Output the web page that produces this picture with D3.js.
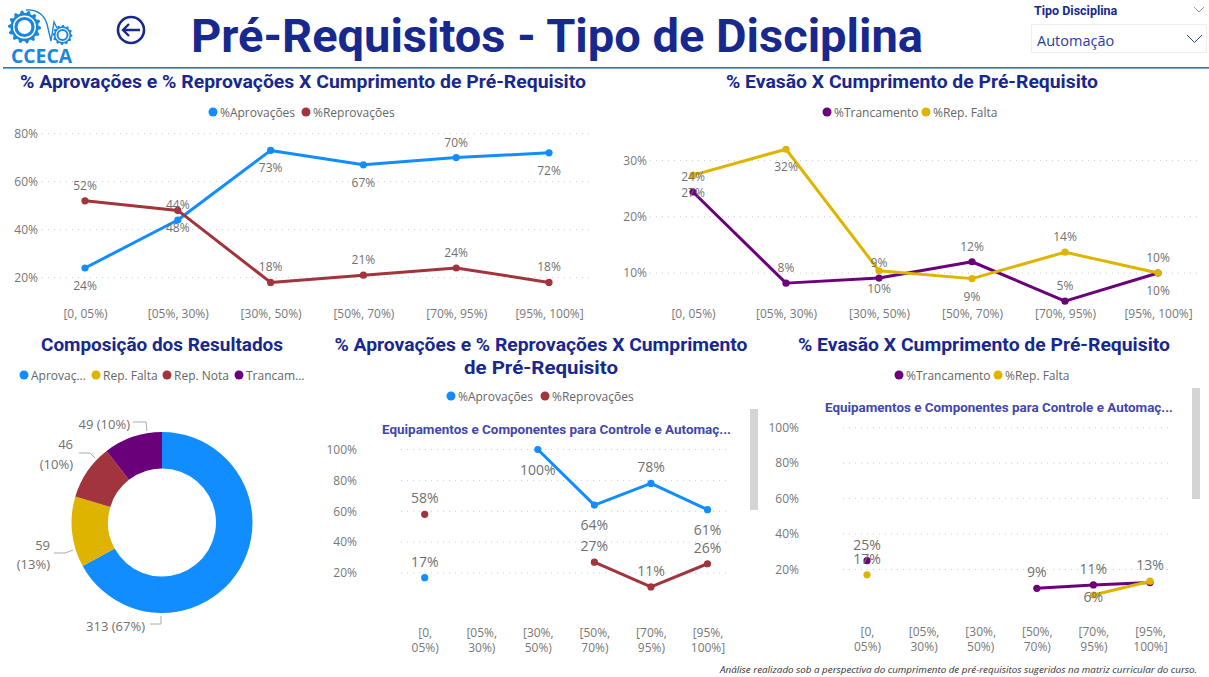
<!DOCTYPE html>
<html><head><meta charset="utf-8">
<script src="https://cdn.jsdelivr.net/npm/d3@7/dist/d3.min.js"></script>
<style>
html,body{margin:0;padding:0;background:#fff;overflow:hidden}
svg{display:block}
text{font-family:"Open Sans","Noto Sans",sans-serif}
.ttl{font-family:Roboto,sans-serif;font-weight:700;fill:#17288f}
.axis text{font-size:12px;fill:#777;font-family:"Open Sans",sans-serif}
.axis .domain,.axis .tick line{display:none}
.lab{font-size:12px;fill:#707070}
.lab2{font-size:14px;fill:#707070}
.leg{font-size:12px;fill:#666}
</style></head><body>
<svg id="c" width="1209" height="677"></svg>
<script>
// ---------- data ----------
const bands = ["[0, 05%)","[05%, 30%)","[30%, 50%)","[50%, 70%)","[70%, 95%)","[95%, 100%]"];
const aprovTop   = [24,44,73,67,70,72];
const reprovTop  = [52,48,18,21,24,18];
const trancTop   = [24.4,8.2,9.1,12,5,10];
const faltaTop   = [27.4,32,10.4,9,13.7,10];
const aprovBot   = [17,null,100,64,78,61];
const reprovBot  = [58,null,null,27,11,26];
const trancBot   = [25,null,null,9.4,11.3,12.6];
const faltaBot   = [17,null,null,null,5.6,13.4];
const resultNames  = ["Aprovações","Rep. Falta","Rep. Nota","Trancamento"];
const resultCounts = [313,59,46,49];
const ticksTopA = [20,40,60,80];
const ticksTopB = [10,20,30];
const ticksBot  = [20,40,60,80,100];
// label placement per point: positive = above the point, negative = below, 0 = no label
const aprovTopSide  = [-1,1,-1,-1,1,-1];
const reprovTopSide = [1,-1,1,1,1,1];
const trancTopSide  = [1,1,1,1,1,-1];
const faltaTopSide  = [-1,-1,-1,-1,1,1];
const aprovBotSide  = [1,0,-1,-1,1,-1];
const reprovBotSide = [1,0,0,1,1,1];
const trancBotSide  = [1,0,0,1,1,0];
const faltaBotSide  = [1,0,0,0,-0.28,1];

const BLUE="#118DFF",RED="#A1343C",GOLD="#DFB400",PURPLE="#6B007B";
const svg=d3.select("#c");

// ---------- header ----------
svg.append("rect").attr("x",3).attr("y",67).attr("width",1206).attr("height",1.6).attr("fill","#2277bb");
function title(t,x,y,size,width){
  const n=svg.append("text").attr("class","ttl").attr("x",x).attr("y",y).attr("text-anchor","middle").attr("font-size",size).text(t);
  if(width) n.attr("textLength",width).attr("lengthAdjust","spacingAndGlyphs");
  return n;
}
title("Pré-Requisitos - Tipo de Disciplina",557,52,46,732);
title("% Aprovações e % Reprovações X Cumprimento de Pré-Requisito",303,88,18.5,566);
title("% Evasão X Cumprimento de Pré-Requisito",912,88,18.5,372);
title("Composição dos Resultados",162,351,18.5,242);
title("% Aprovações e % Reprovações X Cumprimento",541,351,18.5,413);
title("de Pré-Requisito",541,374,18.5,154);
title("% Evasão X Cumprimento de Pré-Requisito",984,351,18.5,372);
title("Equipamentos e Componentes para Controle e Automaç...",556.5,434,12.5,349).style("fill","#3f48a8");
title("Equipamentos e Componentes para Controle e Automaç...",999,412,12.5,348).style("fill","#3f48a8");

// back arrow
const arrow=svg.append("g").attr("fill","none").attr("stroke","#17288f");
arrow.append("circle").attr("cx",131).attr("cy",30).attr("r",13).attr("stroke-width",2.6);
arrow.append("path").attr("d","M123 30H140M129 24L123 30L129 36").attr("stroke-width",2.4);

// slicer
svg.append("text").attr("class","ttl").attr("x",1034).attr("y",15).attr("font-size",12.5).text("Tipo Disciplina");
svg.append("path").attr("d","M1194 7L1199 12L1204 7").attr("fill","none").attr("stroke","#999");
svg.append("rect").attr("x",1031.5).attr("y",24.5).attr("width",175).attr("height",28).attr("fill","#fff").attr("stroke","#eee");
svg.append("text").attr("x",1037).attr("y",46).attr("font-size",14.5).attr("fill","#2c3a9e").text("Automação");
svg.append("path").attr("d","M1187 35L1194.5 42.5L1202 35").attr("fill","none").attr("stroke","#2c3a9e");

// logo
function gear(g,cx,cy,ro,ri,teeth,rw,rr,sw){
  const pts=[];
  for(let i=0;i<teeth*4;i++){
    const a=i/(teeth*4)*2*Math.PI, r=(i%4<2)?ro:ri;
    pts.push([cx+r*Math.cos(a),cy+r*Math.sin(a)]);
  }
  g.append("path").attr("d",d3.line()(pts)+"Z").attr("fill","#1a87dc");
  g.append("circle").attr("cx",cx).attr("cy",cy).attr("r",rw).attr("fill","#fff");
  g.append("circle").attr("cx",cx).attr("cy",cy).attr("r",rr).attr("fill","none").attr("stroke","#1a87dc").attr("stroke-width",sw);
}
const logo=svg.append("g");
gear(logo,24.5,27,16.5,14,14,11.5,8.5,3.2);
gear(logo,62.5,35,10,8.5,12,7,5,2);
logo.append("path").attr("d","M26 10C36 9 44 14 47 24L51 41L54 22L57 28").attr("fill","none").attr("stroke","#1a87dc").attr("stroke-width",1.4);
logo.append("text").attr("x",11).attr("y",62.5).attr("font-family","Roboto").attr("font-weight",700).attr("font-size",19.5).attr("fill","#1a87dc").attr("textLength",61).attr("lengthAdjust","spacingAndGlyphs").text("CCECA");

// footnote
svg.append("text").attr("x",1197).attr("y",673).attr("text-anchor","end").attr("font-size",9.6).attr("font-style","italic").attr("fill","#333").attr("textLength",477).attr("lengthAdjust","spacingAndGlyphs").text("Análise realizado sob a perspectiva do cumprimento de pré-requisitos sugeridos na matriz curricular do curso.");

// scrollbars
[[750,409,8,101],[1192,388,8,111]].forEach(r=>svg.append("rect").attr("x",r[0]).attr("y",r[1]).attr("width",r[2]).attr("height",r[3]).attr("fill","#d4d4d4"));

// ---------- legends ----------
function legend(items){
  items.forEach(d=>{
    svg.append("circle").attr("cx",d.x).attr("cy",d.y).attr("r",4.5).attr("fill",d.c);
    svg.append("text").attr("class","leg").attr("x",d.x+7).attr("y",d.y+4.5).text(d.t);
  });
}
legend([{x:213,y:112,c:BLUE,t:"%Aprovações"},{x:306,y:112,c:RED,t:"%Reprovações"},
 {x:827,y:112,c:PURPLE,t:"%Trancamento"},{x:926,y:112,c:GOLD,t:"%Rep. Falta"},
 {x:24,y:375,c:BLUE,t:"Aprovaç..."},{x:96,y:375,c:GOLD,t:"Rep. Falta"},{x:167,y:375,c:RED,t:"Rep. Nota"},{x:239,y:375,c:PURPLE,t:"Trancam..."},
 {x:451,y:396,c:BLUE,t:"%Aprovações"},{x:545,y:396,c:RED,t:"%Reprovações"},
 {x:899,y:375,c:PURPLE,t:"%Trancamento"},{x:998,y:375,c:GOLD,t:"%Rep. Falta"}]);

// ---------- line charts ----------
function lineChart(o){
  const x=d3.scalePoint().domain(bands).range(o.xr);
  const y=d3.scaleLinear().domain(o.yd).range(o.yr);
  const g=svg.append("g");
  o.ticks.forEach(t=>g.append("line").attr("x1",o.gx[0]).attr("x2",o.gx[1]).attr("y1",y(t)).attr("y2",y(t))
    .attr("stroke","#ccc").attr("stroke-dasharray","1 5"));
  g.append("g").attr("class","axis").attr("transform",`translate(${o.axisX},0)`)
    .call(d3.axisLeft(y).tickValues(o.ticks).tickFormat(d=>d+"%").tickSize(0).tickPadding(0));
  const xa=g.append("g").attr("class","axis").attr("transform",`translate(0,${o.xAxisY})`)
    .call(d3.axisBottom(x).tickSize(0).tickPadding(0));
  if(o.wrap){
    xa.selectAll(".tick text").each(function(d){
      const p=d.split(" "),t=d3.select(this).text(null);
      p.forEach((s,i)=>t.append("tspan").attr("x",0).attr("dy",i?15.5:"0.71em").text(s));
    });
  }
  o.series.forEach(s=>{
    const pts=s.v.map((d,i)=>({d,b:bands[i],side:s.side[i]}));
    const line=d3.line().defined(p=>p.d!=null).x(p=>x(p.b)).y(p=>y(p.d));
    g.append("path").attr("d",line(pts)).attr("fill","none").attr("stroke",s.c).attr("stroke-width",3).attr("stroke-linejoin","round");
    g.selectAll(null).data(pts.filter(p=>p.d!=null)).join("circle")
      .attr("cx",p=>x(p.b)).attr("cy",p=>y(p.d)).attr("r",3.6).attr("fill",s.c);
  });
  o.series.forEach(s=>{
    const pts=s.v.map((d,i)=>({d,b:bands[i],side:s.side[i]})).filter(p=>p.d!=null&&p.side);
    g.selectAll(null).data(pts).join("text").attr("class",o.labClass).attr("text-anchor","middle")
      .attr("x",p=>x(p.b)).attr("y",p=>y(p.d)+(p.side>0?-o.up:-p.side*o.down)).text(p=>Math.round(p.d)+"%");
  });
}
lineChart({xr:[85,549],yd:[20,80],yr:[277.6,133.6],ticks:ticksTopA,gx:[42,590],axisX:38,xAxisY:309,labClass:"lab",up:11,down:22,
  series:[{v:aprovTop,c:BLUE,side:aprovTopSide},{v:reprovTop,c:RED,side:reprovTopSide}]});
lineChart({xr:[693,1158],yd:[10,30],yr:[273,160.5],ticks:ticksTopB,gx:[650,1198],axisX:647,xAxisY:309,labClass:"lab",up:11,down:22,
  series:[{v:trancTop,c:PURPLE,side:trancTopSide},{v:faltaTop,c:GOLD,side:faltaTopSide}]});
lineChart({xr:[424.7,707.5],yd:[20,100],yr:[573,449.5],ticks:ticksBot,gx:[401,728],axisX:357,xAxisY:628,labClass:"lab2",up:11,down:25,wrap:true,
  series:[{v:aprovBot,c:BLUE,side:aprovBotSide},{v:reprovBot,c:RED,side:reprovBotSide}]});
lineChart({xr:[867,1150],yd:[20,100],yr:[569.5,427.7],ticks:ticksBot,gx:[843,1171],axisX:799,xAxisY:627,labClass:"lab2",up:11,down:25,wrap:true,
  series:[{v:trancBot,c:PURPLE,side:trancBotSide},{v:faltaBot,c:GOLD,side:faltaBotSide}]});

// ---------- donut ----------
const pie=d3.pie().sort(null)(resultCounts);
const arc=d3.arc().innerRadius(54).outerRadius(90.5);
const sliceColors=[BLUE,GOLD,RED,PURPLE];
const donut=svg.append("g").attr("transform","translate(162,522.5)");
donut.selectAll("path").data(pie).join("path").attr("d",arc).attr("fill",(d,i)=>sliceColors[i]);
const total=d3.sum(resultCounts);
const pct=c=>`(${Math.round(c/total*100)}%)`;
const donutLabels=[
 {lines:[{x:145,y:631,s:`${resultCounts[0]} ${pct(resultCounts[0])}`}],leader:"M150 624H161V616"},
 {lines:[{x:50,y:550,s:`${resultCounts[1]}`},{x:50,y:569,s:pct(resultCounts[1])}],leader:"M54 553H65L73 550"},
 {lines:[{x:73,y:449,s:`${resultCounts[2]}`},{x:73,y:469,s:pct(resultCounts[2])}],leader:"M79 453H90L95 458"},
 {lines:[{x:130,y:429,s:`${resultCounts[3]} ${pct(resultCounts[3])}`}],leader:"M133 422H146L147 431"}
];
donutLabels.forEach(d=>{
  svg.append("path").attr("d",d.leader).attr("fill","none").attr("stroke","#aaa");
  d.lines.forEach(l=>svg.append("text").attr("class","lab2").style("font-size","13px").attr("text-anchor","end").attr("x",l.x).attr("y",l.y).text(l.s));
});
</script>
</body></html>
